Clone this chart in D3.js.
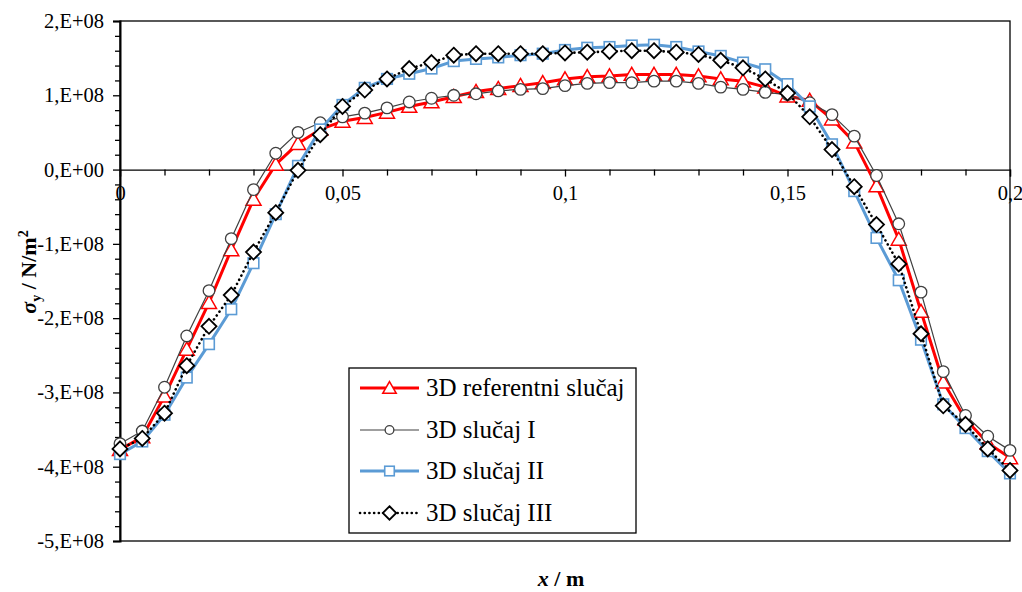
<!DOCTYPE html>
<html>
<head>
<meta charset="utf-8">
<script src="https://cdn.jsdelivr.net/npm/d3@7"></script>
<style>
  html, body { margin: 0; padding: 0; background: #fff; }
  svg { display: block; }
</style>
</head>
<body>
<svg id="chart" width="1022" height="592"></svg>
<script>
// Position along the plate, m
const xValues = [0, 0.005, 0.01, 0.015, 0.02, 0.025, 0.03, 0.035, 0.04, 0.045,
  0.05, 0.055, 0.06, 0.065, 0.07, 0.075, 0.08, 0.085, 0.09, 0.095,
  0.1, 0.105, 0.11, 0.115, 0.12, 0.125, 0.13, 0.135, 0.14, 0.145,
  0.15, 0.155, 0.16, 0.165, 0.17, 0.175, 0.18, 0.185, 0.19, 0.195, 0.2];

// Stress sigma_y, in units of 1e8 N/m^2
const refCase = [-3.77, -3.60, -3.05, -2.42, -1.79, -1.08, -0.40, 0.07, 0.35, 0.54,
  0.65, 0.70, 0.77, 0.85, 0.91, 0.98, 1.05, 1.09, 1.13, 1.17,
  1.22, 1.25, 1.26, 1.28, 1.28, 1.28, 1.26, 1.22, 1.19, 1.11,
  0.99, 0.93, 0.68, 0.37, -0.22, -0.94, -1.91, -2.86, -3.36, -3.68, -3.88];
const caseI = [-3.69, -3.52, -2.93, -2.24, -1.63, -0.93, -0.27, 0.22, 0.50, 0.63,
  0.71, 0.76, 0.83, 0.91, 0.96, 1.00, 1.02, 1.06, 1.08, 1.09,
  1.13, 1.16, 1.17, 1.17, 1.19, 1.19, 1.16, 1.11, 1.08, 1.04,
  1.01, 0.90, 0.74, 0.45, -0.08, -0.73, -1.65, -2.72, -3.31, -3.59, -3.78];
const caseII = [-3.83, -3.66, -3.30, -2.80, -2.35, -1.88, -1.26, -0.60, 0.05, 0.54,
  0.87, 1.10, 1.22, 1.29, 1.36, 1.46, 1.49, 1.51, 1.54, 1.56,
  1.61, 1.64, 1.65, 1.67, 1.68, 1.65, 1.59, 1.53, 1.44, 1.35,
  1.15, 0.85, 0.34, -0.29, -0.92, -1.49, -2.29, -3.16, -3.48, -3.79, -4.09];
const caseIII = [-3.76, -3.62, -3.28, -2.64, -2.11, -1.69, -1.11, -0.58, -0.01, 0.47,
  0.85, 1.07, 1.22, 1.36, 1.44, 1.54, 1.56, 1.56, 1.56, 1.56,
  1.57, 1.58, 1.59, 1.60, 1.60, 1.58, 1.55, 1.47, 1.37, 1.22,
  1.03, 0.71, 0.27, -0.23, -0.74, -1.27, -2.21, -3.18, -3.43, -3.76, -4.05];

const seriesNames = ["3D referentni slučaj", "3D slučaj I", "3D slučaj II", "3D slučaj III"];

const xTickValues = [0, 0.05, 0.1, 0.15, 0.2];
const xTickLabels = ["0", "0,05", "0,1", "0,15", "0,2"];
const yTickValues = [-5e8, -4e8, -3e8, -2e8, -1e8, 0, 1e8, 2e8];
const yTickLabels = ["-5,E+08", "-4,E+08", "-3,E+08", "-2,E+08", "-1,E+08", "0,E+00", "1,E+08", "2,E+08"];

const SERIF = '"Liberation Serif", "Times New Roman", Times, "DejaVu Serif", serif';
const plot = { left: 120, right: 1010, top: 21, bottom: 541 };

const svg = d3.select("#chart").attr("font-family", SERIF);
const x = d3.scaleLinear().domain([0, 0.2]).range([plot.left, plot.right]);
const y = d3.scaleLinear().domain([-5e8, 2e8]).range([plot.bottom, plot.top]);

// Series styles
const styles = [
  { data: refCase, color: "#ff0000", width: 3, dash: null, marker: "triangle", mstroke: "#ff0000" },
  { data: caseI, color: "#404040", width: 1.2, dash: null, marker: "circle", mstroke: "#404040" },
  { data: caseII, color: "#5b9bd5", width: 3, dash: null, marker: "square", mstroke: "#5b9bd5" },
  { data: caseIII, color: "#000000", width: 2.6, dash: "0.1 4.6", marker: "diamond", mstroke: "#000000" }
];

// Plot area frame
svg.append("rect")
  .attr("x", plot.left).attr("y", plot.top)
  .attr("width", plot.right - plot.left).attr("height", plot.bottom - plot.top)
  .attr("fill", "none").attr("stroke", "#000").attr("stroke-width", 1.3);

// Y axis: minor ticks every 2e7, major every 1e8
const yMinor = d3.range(-5e8, 2e8 + 1, 2e7).filter(v => Math.abs(v % 1e8) > 1);
svg.append("g")
  .attr("transform", `translate(${plot.left},0)`)
  .call(d3.axisLeft(y).tickValues(yMinor).tickSize(5).tickFormat(""))
  .call(g => g.select(".domain").remove())
  .call(g => g.selectAll("line").attr("stroke", "#000").attr("stroke-width", 1.3));
const yAxis = svg.append("g")
  .attr("transform", `translate(${plot.left},0)`)
  .call(d3.axisLeft(y).tickValues(yTickValues).tickSize(7).tickPadding(9)
    .tickFormat((d, i) => yTickLabels[i]));
yAxis.attr("font-family", SERIF).attr("font-size", 20.5);
yAxis.select(".domain").attr("stroke", "#000").attr("stroke-width", 2);
yAxis.selectAll("line").attr("stroke", "#000").attr("stroke-width", 1.3);
yAxis.selectAll("text").attr("fill", "#000");

// X axis along zero stress: minor ticks every 0.01
const xMinor = d3.range(0, 0.2001, 0.01).filter(v => Math.abs((v / 0.05) - Math.round(v / 0.05)) > 1e-6);
svg.append("g")
  .attr("transform", `translate(0,${y(0)})`)
  .call(d3.axisBottom(x).tickValues(xMinor).tickSize(6).tickFormat(""))
  .call(g => g.select(".domain").remove())
  .call(g => g.selectAll("line").attr("stroke", "#000").attr("stroke-width", 1.3));
const xAxis = svg.append("g")
  .attr("transform", `translate(0,${y(0)})`)
  .call(d3.axisBottom(x).tickValues(xTickValues).tickSize(7).tickPadding(9)
    .tickFormat((d, i) => xTickLabels[i]));
xAxis.attr("font-family", SERIF).attr("font-size", 20.5);
xAxis.select(".domain").attr("stroke", "#000").attr("stroke-width", 1.3);
xAxis.selectAll("line").attr("stroke", "#000").attr("stroke-width", 1.3);
xAxis.selectAll("text").attr("fill", "#000");

// Marker shapes
function drawMarker(g, type, cx, cy, stroke, scale) {
  const s = scale || 1;
  if (type === "triangle") {
    const w = 7.5 * s, h = 13 * s;
    g.append("path")
      .attr("d", `M${cx},${cy - h * 0.55}L${cx + w},${cy + h * 0.45}L${cx - w},${cy + h * 0.45}Z`)
      .attr("fill", "#fff").attr("stroke", stroke).attr("stroke-width", 1.5);
  } else if (type === "circle") {
    g.append("circle").attr("cx", cx).attr("cy", cy).attr("r", 5.8 * s)
      .attr("fill", "#fff").attr("stroke", stroke).attr("stroke-width", 1.3);
  } else if (type === "square") {
    const a = 5.3 * s;
    g.append("rect").attr("x", cx - a).attr("y", cy - a).attr("width", 2 * a).attr("height", 2 * a)
      .attr("fill", "#fff").attr("stroke", stroke).attr("stroke-width", 1.6);
  } else if (type === "diamond") {
    const a = 7.5 * s;
    g.append("path")
      .attr("d", `M${cx},${cy - a}L${cx + a},${cy}L${cx},${cy + a}L${cx - a},${cy}Z`)
      .attr("fill", "#fff").attr("stroke", stroke).attr("stroke-width", 1.8);
  }
}

const line = d3.line().x(d => x(d[0])).y(d => y(d[1] * 1e8));

styles.forEach(st => {
  const pts = xValues.map((xv, i) => [xv, st.data[i]]);
  const g = svg.append("g");
  g.append("path")
    .datum(pts)
    .attr("d", line)
    .attr("fill", "none")
    .attr("stroke", st.color)
    .attr("stroke-width", st.width)
    .attr("stroke-linecap", st.dash ? "round" : "butt")
    .attr("stroke-linejoin", "round")
    .attr("stroke-dasharray", st.dash);
  pts.forEach(p => drawMarker(g, st.marker, x(p[0]), y(p[1] * 1e8), st.mstroke, 1));
});

// Legend
const legend = svg.append("g");
legend.append("rect")
  .attr("x", 349).attr("y", 368).attr("width", 287).attr("height", 165)
  .attr("fill", "#fff").attr("stroke", "#000").attr("stroke-width", 1.3);
const legendRowY = [388, 430, 471, 513];
styles.forEach((st, i) => {
  const cy = legendRowY[i];
  legend.append("line")
    .attr("x1", 360).attr("x2", 419).attr("y1", cy).attr("y2", cy)
    .attr("stroke", st.color).attr("stroke-width", st.width)
    .attr("stroke-linecap", st.dash ? "round" : "butt")
    .attr("stroke-dasharray", st.dash);
  drawMarker(legend, st.marker, 389.5, cy, st.mstroke, st.marker === "circle" ? 0.75 : 0.9);
  legend.append("text")
    .attr("x", 426).attr("y", cy + 8)
    .attr("font-family", SERIF).attr("font-size", 25)
    .text(seriesNames[i]);
});

// Axis titles
const yTitle = svg.append("text")
  .attr("transform", "translate(36,272) rotate(-90)")
  .attr("text-anchor", "middle")
  .attr("font-family", SERIF).attr("font-size", 22).attr("font-weight", "bold");
yTitle.append("tspan").attr("font-style", "italic").text("σ");
yTitle.append("tspan").attr("dy", 5).attr("font-size", 14).text("y");
yTitle.append("tspan").attr("dy", -5).text(" / N/m");
yTitle.append("tspan").attr("dy", -8).attr("font-size", 14).text("2");

const xTitle = svg.append("text")
  .attr("x", 561).attr("y", 586)
  .attr("text-anchor", "middle")
  .attr("font-family", SERIF).attr("font-size", 22).attr("font-weight", "bold");
xTitle.append("tspan").attr("font-style", "italic").text("x");
xTitle.append("tspan").text(" / m");
</script>
</body>
</html>
